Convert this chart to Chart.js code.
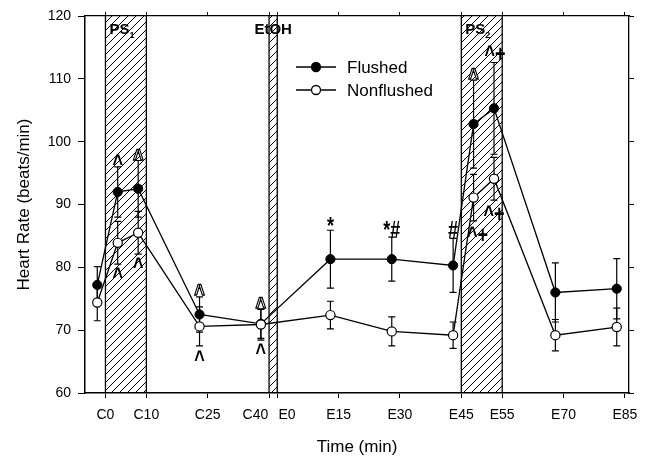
<!DOCTYPE html>
<html><head><meta charset="utf-8">
<script src="https://cdn.jsdelivr.net/npm/chart.js@4/dist/chart.umd.min.js"></script>
<style>html,body{margin:0;padding:0;background:#fff}#wrap{width:649px;height:456px}</style>
</head><body><div id="wrap"><canvas id="c" width="649" height="456"></canvas></div>
<script>
// ---- data ----
const times = [-2, 3, 8, 23, 38, 55, 70, 85, 90, 95, 110, 125];
const flushed = [77.2, 92.0, 92.5, 72.5, 71.0, 81.3, 81.3, 80.3, 102.8, 105.3, 76.0, 76.6];
const flushedErr = [2.9, 4.0, 4.5, 2.8, 2.3, 4.6, 3.5, 4.3, 7.0, 7.3, 4.7, 4.8];
const nonflushed = [74.4, 83.9, 85.5, 70.6, 70.9, 72.4, 69.8, 69.2, 91.1, 94.1, 69.2, 70.5];
const nonflushedErr = [2.9, 3.4, 3.4, 3.1, 2.5, 2.2, 2.3, 2.1, 3.7, 3.4, 2.5, 3.0];
const xTickValues = [0, 10, 25, 40, 42, 57, 72, 87, 97, 112, 127];
const xTickLabels = ['C0', 'C10', 'C25', 'C40', 'E0', 'E15', 'E30', 'E45', 'E55', 'E70', 'E85'];
const yTickValues = [60, 70, 80, 90, 100, 110, 120];
const bandStarts = [0, 40, 87];
const bandEnds = [10, 42, 97];
const bandLabels = ['PS', 'EtOH', 'PS'];
const bandSubs = ['1', '', '2'];
// significance marks: series, point index, text, side
const annSeries = ['F','F','N','N','F','N','F','N','F','F','F','F','N','F','N'];
const annIndex  = [1, 2, 1, 2, 3, 3, 4, 4, 5, 6, 7, 8, 8, 9, 9];
const annText   = ['^','^','^','^','^','^','^','^','*','*#','#','^','^+','^+','^+'];
const annSide   = ['up','up','down','down','up','down','up','down','up','up','up','up','down','up','down'];
// ---- style ----
const annHollow = [false,true,false,false,true,false,true,false,false,false,false,true,false,false,false];
const annGap    = [8,7,8,8,8,9,8,8,9,8,9,7,13,10,12];
const annDx     = [0,0,0,0,0,0,0,0,0,0,0,0,4,1,0];

const FONT = "'Liberation Sans', Arial, Helvetica, sans-serif";

const hatchCanvas = (() => {
  const c = document.createElement('canvas'); c.width = 8; c.height = 8;
  const g = c.getContext('2d');
  g.strokeStyle = '#000'; g.lineWidth = 1;
  g.beginPath();
  g.moveTo(0, 8); g.lineTo(8, 0);
  g.moveTo(-2, 2); g.lineTo(2, -2);
  g.moveTo(6, 10); g.lineTo(10, 6);
  g.stroke();
  return c;
})();

const decor = {
  id: 'decor',
  beforeDatasetsDraw(chart) {
    const {ctx, chartArea: a, scales: {x, y}} = chart;
    ctx.save();
    const pat = ctx.createPattern(hatchCanvas, 'repeat');
    for (let i = 0; i < bandStarts.length; i++) {
      const x0 = x.getPixelForValue(bandStarts[i]), x1 = x.getPixelForValue(bandEnds[i]);
      ctx.fillStyle = pat;
      ctx.fillRect(x0, a.top, x1 - x0, a.bottom - a.top);
      ctx.strokeStyle = '#000'; ctx.lineWidth = 1.3;
      ctx.beginPath();
      ctx.moveTo(x0, a.top); ctx.lineTo(x0, a.bottom);
      ctx.moveTo(x1, a.top); ctx.lineTo(x1, a.bottom);
      ctx.stroke();
    }
    ctx.fillStyle = '#000';
    ctx.textBaseline = 'alphabetic';
    for (let i = 0; i < bandLabels.length; i++) {
      const x0 = x.getPixelForValue(bandStarts[i]), x1 = x.getPixelForValue(bandEnds[i]);
      ctx.font = 'bold 15px ' + FONT;
      if (bandSubs[i]) {
        ctx.textAlign = 'left';
        const tx = x0 + 4;
        ctx.fillText(bandLabels[i], tx, a.top + 18);
        const w = ctx.measureText(bandLabels[i]).width;
        ctx.font = 'bold 9px ' + FONT;
        ctx.fillText(bandSubs[i], tx + w, a.top + 22);
      } else {
        ctx.textAlign = 'center';
        ctx.fillText(bandLabels[i], (x0 + x1) / 2, a.top + 18);
      }
    }
    const series = [[flushed, flushedErr], [nonflushed, nonflushedErr]];
    ctx.strokeStyle = '#000'; ctx.lineWidth = 1.2;
    for (const [vals, errs] of series) {
      for (let i = 0; i < times.length; i++) {
        const px = x.getPixelForValue(times[i]);
        const yt = y.getPixelForValue(vals[i] + errs[i]);
        const yb = y.getPixelForValue(vals[i] - errs[i]);
        ctx.beginPath();
        ctx.moveTo(px, yt); ctx.lineTo(px, yb);
        ctx.moveTo(px - 3.5, yt); ctx.lineTo(px + 3.5, yt);
        ctx.moveTo(px - 3.5, yb); ctx.lineTo(px + 3.5, yb);
        ctx.stroke();
      }
    }
    ctx.restore();
  },
  afterDatasetsDraw(chart) {
    const {ctx, chartArea: a, scales: {x, y}} = chart;
    ctx.save();
    ctx.font = 'bold 18px ' + FONT;
    ctx.textAlign = 'center';
    ctx.textBaseline = 'alphabetic';
    const sy = 1.35;
    for (let k = 0; k < annText.length; k++) {
      const vals = annSeries[k] === 'F' ? flushed : nonflushed;
      const errs = annSeries[k] === 'F' ? flushedErr : nonflushedErr;
      const i = annIndex[k];
      const px = x.getPixelForValue(times[i]) + annDx[k];
      let cy;
      if (annSide[k] === 'up') cy = y.getPixelForValue(vals[i] + errs[i]) - annGap[k];
      else cy = y.getPixelForValue(vals[i] - errs[i]) + annGap[k];
      const m = ctx.measureText(annText[k]);
      const off = (m.actualBoundingBoxAscent - m.actualBoundingBoxDescent) / 2;
      ctx.save();
      ctx.translate(px, cy);
      ctx.scale(1, sy);
      if (annHollow[k]) {
        ctx.fillStyle = '#fff'; ctx.fillText(annText[k], 0, off);
        ctx.strokeStyle = '#000'; ctx.lineWidth = 1.1; ctx.strokeText(annText[k], 0, off);
      } else {
        ctx.fillStyle = '#000'; ctx.fillText(annText[k], 0, off);
      }
      ctx.restore();
    }
    const lx = a.left + 211, ly = a.top + 51;
    const items = [['Flushed', '#000'], ['Nonflushed', '#fff']];
    ctx.font = '17px ' + FONT;
    ctx.textAlign = 'left'; ctx.textBaseline = 'middle';
    items.forEach(([label, fill], j) => {
      const yy = ly + j * 23;
      ctx.strokeStyle = '#000'; ctx.lineWidth = 1.3;
      ctx.beginPath(); ctx.moveTo(lx, yy); ctx.lineTo(lx + 40, yy); ctx.stroke();
      ctx.beginPath(); ctx.arc(lx + 20, yy, 4.5, 0, Math.PI * 2);
      ctx.fillStyle = fill; ctx.fill(); ctx.stroke();
      ctx.fillStyle = '#000';
      ctx.fillText(label, lx + 51, yy + 1);
    });
    ctx.restore();
  }
};

const xTicksFixed = s => { s.ticks = xTickValues.map(v => ({value: v})); };
const yTicksFixed = s => { s.ticks = yTickValues.map(v => ({value: v})); };
const xLabel = (v) => {
  const i = xTickValues.indexOf(v);
  const t = i >= 0 ? xTickLabels[i] : '';
  if (t === 'C40') return t + '       ';
  if (t === 'E0') return '     ' + t;
  return t;
};

new Chart(document.getElementById('c'), {
  type: 'line',
  data: {
    datasets: [
      {
        label: 'Flushed', order: 2,
        data: times.map((t, i) => ({x: t, y: flushed[i]})),
        borderColor: '#000', borderWidth: 1.3, tension: 0,
        pointRadius: 4.6, pointBackgroundColor: '#000', pointBorderColor: '#000', pointBorderWidth: 1
      },
      {
        label: 'Nonflushed', order: 1,
        data: times.map((t, i) => ({x: t, y: nonflushed[i]})),
        borderColor: '#000', borderWidth: 1.3, tension: 0,
        pointRadius: 4.6, pointBackgroundColor: '#fff', pointBorderColor: '#000', pointBorderWidth: 1.2
      }
    ]
  },
  options: {
    responsive: false, animation: false, devicePixelRatio: 1,
    layout: {padding: 0},
    plugins: {legend: {display: false}, tooltip: {enabled: false}},
    scales: {
      x: {
        type: 'linear', position: 'bottom', min: -5, max: 128,
        afterBuildTicks: xTicksFixed,
        afterFit: s => { s.height = 63; },
        ticks: {autoSkip: false, maxRotation: 0, color: '#000', padding: 9,
                font: {family: FONT, size: 14}, callback: (v) => xLabel(v)},
        grid: {display: true, drawOnChartArea: false, drawTicks: true, tickLength: 5, color: '#000', lineWidth: 1},
        border: {display: true, color: '#000', width: 1.5},
        title: {display: true, text: 'Time (min)', color: '#000', font: {family: FONT, size: 17}, padding: {top: 0, bottom: -2}}
      },
      x2: {
        type: 'linear', position: 'top', min: -5, max: 128,
        afterBuildTicks: xTicksFixed,
        afterFit: s => { s.height = 16; },
        ticks: {display: false},
        grid: {display: true, drawOnChartArea: false, drawTicks: true, tickLength: 4, color: '#000', lineWidth: 1},
        border: {display: true, color: '#000', width: 1.3}
      },
      y: {
        type: 'linear', position: 'left', min: 60, max: 120,
        afterBuildTicks: yTicksFixed,
        afterFit: s => { s.width = 85; },
        ticks: {color: '#000', padding: 7, font: {family: FONT, size: 14}},
        grid: {display: true, drawOnChartArea: false, drawTicks: true, tickLength: 7, color: '#000', lineWidth: 1},
        border: {display: true, color: '#000', width: 1.5},
        title: {display: true, text: 'Heart Rate (beats/min)', color: '#000', font: {family: FONT, size: 17}, padding: {top: 14, bottom: 0}}
      },
      y2: {
        type: 'linear', position: 'right', min: 60, max: 120,
        afterBuildTicks: yTicksFixed,
        afterFit: s => { s.width = 20; },
        ticks: {display: false},
        grid: {display: true, drawOnChartArea: false, drawTicks: true, tickLength: 5, color: '#000', lineWidth: 1},
        border: {display: true, color: '#000', width: 1.3}
      }
    }
  },
  plugins: [decor]
});
</script>
</body></html>
